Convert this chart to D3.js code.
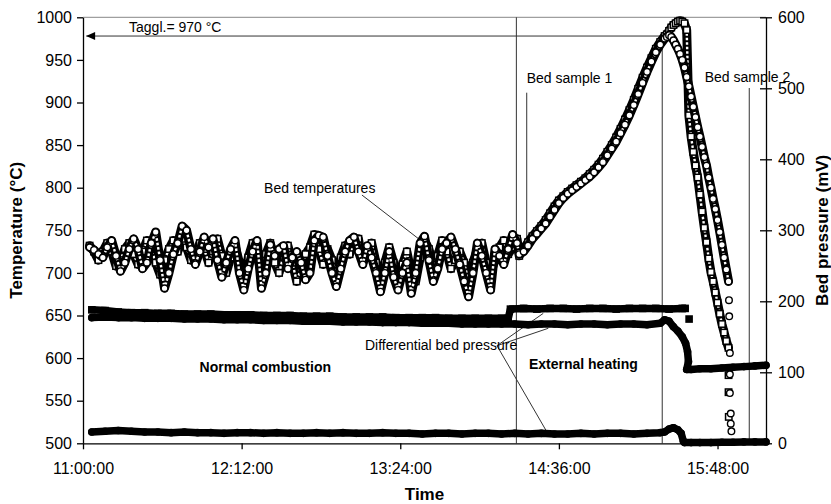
<!DOCTYPE html>
<html><head><meta charset="utf-8">
<script src="https://cdn.jsdelivr.net/npm/d3@7"></script>
<style>body{margin:0;background:#fff}svg{display:block}</style>
</head><body>
<svg id="c" width="831" height="504"></svg>
<script>
// ---------- DATA (time in minutes after 11:00:00) ----------
const timeTickLabels = ["11:00:00","12:12:00","13:24:00","14:36:00","15:48:00"];
const tempTicks = [500,550,600,650,700,750,800,850,900,950,1000];
const pressTicks = [0,100,200,300,400,500,600];

// Bed temperatures – thermocouple A (open circles) and B (open squares)
const oscMin = d3.range(3, 198, 2);
const oscA = [730,727,722,718,730,738,720,702,712,728,
  740,728,705,712,735,748,715,682,700,722,
  735,755,750,728,710,725,742,730,740,715,
  695,712,728,738,700,680,705,725,738,682,
  700,733,720,728,732,705,718,725,712,692,
  700,738,744,742,720,700,684,705,725,738,
  742,725,710,732,718,700,678,700,725,695,
  680,700,712,676,700,735,743,715,690,705,
  728,735,742,728,710,690,672,700,735,720,
  700,680,728,720,710,728,745,735];
const oscB = [732,725,715,725,735,725,708,715,728,735,
  722,710,725,738,728,712,698,715,728,738,
  725,740,730,715,722,735,728,712,725,740,
  720,700,718,732,712,690,718,735,720,700,
  722,735,712,700,720,732,712,690,705,722,
  730,745,728,710,728,715,698,718,732,722,
  735,740,712,725,735,712,690,712,730,712,
  688,710,725,700,690,718,738,728,705,720,
  738,725,705,715,725,712,690,712,728,735,
  712,700,715,730,738,722,730,740];
const rampMin = d3.range(198, 265, 2);
const rampA = [722,725,732,740,746,752,758,766,774,782,788,793,797,801,805,809,813,818,824,830,838,846,854,864,874,885,897,910,923,936,948,959,968,975];
const rampB = [720,728,736,743,749,755,762,770,778,785,790,795,799,803,807,811,816,821,827,834,842,850,859,869,880,891,903,916,929,941,952,963,971,978];
const dropMin = d3.range(265, 294, 1);
const dropA = [977,979,977,973,968,963,957,950,941,930,919,907,895,883,871,860,848,836,826,812,800,787,775,762,748,733,718,704,690];
const dropB = [980,984,988,991,993,995,996,995,993,985,885,860,842,826,812,792,772,753,736,717,701,690,677,665,652,640,630,620,612];
const scatterAMin = [293.2,293.3,293.6,293.6,293.6,294.0,294.0,294.3];
const scatterAVal = [668,649,606,581,559,535,523,514];
const scatterBMin = [293.0,293.0,293.1];
const scatterBVal = [580,560,531];

// Differential bed pressures (mV)
const pGridMin = d3.range(4, 263, 6);
const pLowVal = [16,17,18,17,16,16,15,16,15,15,
  14,15,15,14,15,14,14,15,14,15,
  14,14,15,14,14,13,14,14,13,14,
  14,13,14,13,14,13,13,14,13,14,
  14,13,14,15];
const pLowTailMin = [264,266,268,270,271.5,272.5,273,276,280,285,290,295,300,305,310];
const pLowTailVal = [16,20,22,19,14,3,1,1,1,1,1.5,1.5,2,2,2];
const pMidVal = [177,178,177,177,176,176,176,175,175,175,
  174,174,174,173,173,173,172,172,172,171,
  171,171,170,170,170,169,169,169,168,168,
  168,168,168,167,168,168,167,168,168,167,
  168,168,167,169];
const pMidTailMin = [264,266,268,270,272,273.5,274.4,274.8,274.0,276,280,285,290,295,300,305,310];
const pMidTailVal = [174,172,164,158,150,141,129,115,104,104,105,105,106,107,108,109,110];
const pHighEarlyMin = d3.range(4, 191, 6);
const pHighEarlyVal = [188,187,185,184,184,183,183,182,182,182,
  181,181,181,180,180,180,179,179,179,178,
  178,178,178,177,177,177,177,176,176,176,
  176,176];
const pHighLateMin = [193,194,200,206,212,218,224,230,236,242,248,254,260,266,272,273.3];
const pHighLateVal = [176,189,190,189,190,190,189,190,190,189,190,190,190,189,190,190];
const pHighLoneMin = [275.1];
const pHighLoneVal = [175];

// ---------- SCALES ----------
const svg = d3.select("#c");
const FONT = "'Liberation Sans', Arial, sans-serif";
const x = d3.scaleLinear().domain([0, 310]).range([83, 766]);
const yT = d3.scaleLinear().domain([500, 1000]).range([443.3, 17.3]);
const yP = d3.scaleLinear().domain([0, 600]).range([443.3, 17.3]);
const toMin = s => { const [h, m] = s.split(":").map(Number); return (h - 11) * 60 + m; };
const zip = (a, b) => a.map((v, i) => [v, b[i]]);

// frame top line
svg.append("line").attr("x1", x(0)).attr("x2", x(310)).attr("y1", yT(1000)).attr("y2", yT(1000))
  .attr("stroke", "#888").attr("stroke-width", 1);

// ---------- annotation lines (behind data) ----------
const ann = svg.append("g").attr("stroke", "#333").attr("stroke-width", 1).attr("fill", "none");
ann.append("line").attr("x1", x(196.7)).attr("x2", x(196.7)).attr("y1", yT(1000)).attr("y2", yT(500));
ann.append("line").attr("x1", x(262.9)).attr("x2", x(262.9)).attr("y1", yT(978)).attr("y2", yT(500));
ann.append("line").attr("x1", x(262.9)).attr("x2", x(1.5)).attr("y1", yT(978)).attr("y2", yT(978));
ann.append("line").attr("x1", x(201.4)).attr("x2", x(201.4)).attr("y1", yT(911.5)).attr("y2", yT(735));
ann.append("line").attr("x1", x(302.4)).attr("x2", x(302.4)).attr("y1", yT(917)).attr("y2", yT(500));
ann.append("line").attr("x1", x(126.6)).attr("x2", x(159.8)).attr("y1", yT(791.4)).attr("y2", yT(725.1));
[[208.9,183],[211.2,162],[210.5,16.3]].forEach(([m,p]) => {
  ann.append("line").attr("x1", x(187.9)).attr("y1", yP(137.5)).attr("x2", x(m)).attr("y2", yP(p));
});
// arrowhead pointing to left axis
svg.append("path")
  .attr("d", `M${x(1.4)},${yT(978)} L${x(5.5)},${yT(978) - 4} L${x(5.5)},${yT(978) + 4} Z`)
  .attr("fill", "#000");

// ---------- pressure series ----------
const lineP = d3.line().x(d => x(d[0])).y(d => yP(d[1]));
const pLow = zip(pGridMin, pLowVal).concat(zip(pLowTailMin, pLowTailVal));
const pMid = zip(pGridMin, pMidVal).concat(zip(pMidTailMin, pMidTailVal));
const pHigh = zip(pHighEarlyMin, pHighEarlyVal).concat(zip(pHighLateMin, pHighLateVal));
const pLone = zip(pHighLoneMin, pHighLoneVal);
[pLow, pMid, pHigh].forEach(s => {
  svg.append("path").attr("d", lineP(s)).attr("fill", "none").attr("stroke", "#000")
    .attr("stroke-width", 7.5).attr("stroke-linejoin", "round").attr("stroke-linecap", "round");
});
svg.append("g").selectAll("circle").data(pLow.concat(pMid)).join("circle")
  .attr("cx", d => x(d[0])).attr("cy", d => yP(d[1])).attr("r", 3.8).attr("fill", "#000");
svg.append("g").selectAll("rect").data(pHigh.concat(pLone)).join("rect")
  .attr("x", d => x(d[0]) - 3.8).attr("y", d => yP(d[1]) - 3.8).attr("width", 7.6).attr("height", 7.6).attr("fill", "#000");

// ---------- temperature series ----------
const lineT = d3.line().x(d => x(d[0])).y(d => yT(d[1]));
const tA = zip(oscMin, oscA).concat(zip(rampMin, rampA), zip(dropMin, dropA));
const tB = zip(oscMin, oscB).concat(zip(rampMin, rampB), zip(dropMin, dropB));
const sA = zip(scatterAMin, scatterAVal);
const sB = zip(scatterBMin, scatterBVal);

function tube(s) {
  svg.append("path").attr("d", lineT(s)).attr("fill", "none").attr("stroke", "#000")
    .attr("stroke-width", 9).attr("stroke-linejoin", "round").attr("stroke-linecap", "round");
  svg.append("path").attr("d", lineT(s)).attr("fill", "none").attr("stroke", "#fff")
    .attr("stroke-width", 2.4).attr("stroke-dasharray", "2.5 2").attr("stroke-linejoin", "round");
}
tube(tB);
svg.append("g").selectAll("rect").data(tB.concat(sB)).join("rect")
  .attr("x", d => x(d[0]) - 3.2).attr("y", d => yT(d[1]) - 3.2).attr("width", 6.4).attr("height", 6.4)
  .attr("fill", "#fff").attr("stroke", "#000").attr("stroke-width", 1.5);
tube(tA);
svg.append("g").selectAll("circle").data(tA.concat(sA)).join("circle")
  .attr("cx", d => x(d[0])).attr("cy", d => yT(d[1])).attr("r", 3.3)
  .attr("fill", "#fff").attr("stroke", "#000").attr("stroke-width", 1.4);

// ---------- axes ----------
const axL = d3.axisLeft(yT).tickValues(tempTicks).tickFormat(d3.format("d")).tickSize(6).tickSizeOuter(0).tickPadding(5);
const gL = svg.append("g").attr("transform", `translate(${x(0)},0)`).call(axL);
const axR = d3.axisRight(yP).tickValues(pressTicks).tickFormat(d3.format("d")).tickSize(6).tickSizeOuter(0).tickPadding(6);
const gR = svg.append("g").attr("transform", `translate(${x(310)},0)`).call(axR);
gR.selectAll(".tick line").attr("x1", -6);
const axB = d3.axisBottom(x).tickValues(timeTickLabels.map(toMin))
  .tickFormat((d, i) => timeTickLabels[i]).tickSize(6).tickSizeOuter(0).tickPadding(13);
const gB = svg.append("g").attr("transform", `translate(0,${yT(500)})`).call(axB);
[gL, gR, gB].forEach(g => {
  g.selectAll("text").attr("font-family", FONT).attr("font-size", 16).attr("fill", "#000");
  g.selectAll("line,path").attr("stroke", "#000").attr("stroke-width", 1.3);
});

// ---------- texts ----------
function txt(str, px, py, opts = {}) {
  return svg.append("text").attr("x", px).attr("y", py).text(str)
    .attr("font-family", FONT).attr("font-size", opts.size || 14)
    .attr("font-weight", opts.bold ? "bold" : "normal")
    .attr("text-anchor", opts.anchor || "start").attr("fill", "#000");
}
txt("Taggl.= 970 °C", x(20.9), yT(983.3));
txt("Bed temperatures", x(82.2), yT(793.8));
txt("Bed sample 1", x(201.4), yT(922.9));
txt("Bed sample 2", x(301.6), yT(924), { anchor: "middle" });
txt("Differential bed pressure", x(128), yP(131.4));
txt("Normal combustion", x(52.9), yT(584), { bold: true });
txt("External heating", x(202.4), yT(586.7), { bold: true });
txt("Time", (x(0) + x(310)) / 2, 500, { bold: true, size: 17, anchor: "middle" });
txt("Temperature (°C)", 0, 0, { bold: true, size: 17, anchor: "middle" })
  .attr("transform", `translate(22,${(yT(500) + yT(1000)) / 2}) rotate(-90)`);
txt("Bed pressure (mV)", 0, 0, { bold: true, size: 17, anchor: "middle" })
  .attr("transform", `translate(828,${(yT(500) + yT(1000)) / 2}) rotate(-90)`);
</script>
</body></html>
